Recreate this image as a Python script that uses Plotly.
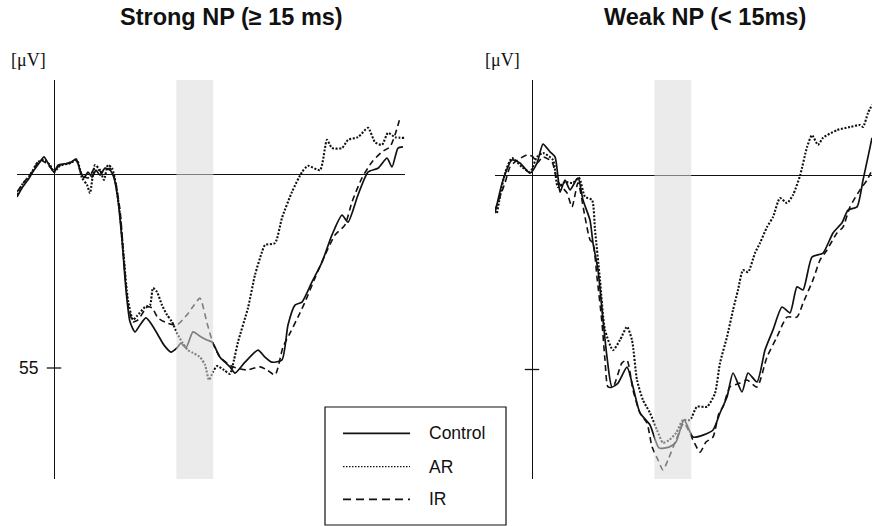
import plotly.graph_objects as go

# ---------------- data (time in ms, amplitude in microvolts, negative up) ----------------
# Strong NP (>= 15 ms)
S_CTRL_T = [-92.5, -80, -65, -50, -35, -25, -15, 0, 10, 25, 40, 55, 65, 75, 85, 95, 105, 115, 127.5, 140, 150,
            160, 170, 180, 190, 202.5, 215, 230, 245, 260, 275, 292.5, 307.5, 317.5, 330, 347.5, 365, 382.5, 395,
            415, 427.5, 440, 452.5, 477.5, 510, 527.5, 545, 570, 585, 602.5, 620, 645, 670, 695, 720, 735, 760,
            785, 810, 832.5, 845, 860, 872.5]
S_CTRL_V = [0.59, 0.36, 0.15, -0.10, -0.31, -0.44, -0.28, -0.05, -0.23, -0.26, -0.28, -0.39, -0.10, 0.10, -0.05,
            0.08, -0.10, 0.03, -0.15, -0.10, 0.10, 0.67, 1.70, 2.99, 3.81, 4.07, 3.89, 3.71, 3.89, 4.15, 4.41, 4.59,
            4.48, 4.36, 4.48, 4.07, 4.18, 4.28, 4.33, 4.72, 4.85, 4.97, 5.13, 4.85, 4.54, 4.72, 4.85, 4.79, 3.89,
            3.38, 3.30, 2.78, 2.27, 1.57, 1.06, 1.24, 0.54, -0.05, -0.15, -0.41, -0.18, -0.67, -0.70]

S_AR_T = [-92.5, -80, -60, -40, -25, -10, 0, 15, 40, 57.5, 70, 82.5, 90, 102.5, 115, 125, 135, 145, 155, 165,
          175, 185, 197.5, 207.5, 227.5, 240, 247.5, 257.5, 270, 282.5, 295, 307.5, 320, 335, 347.5, 365, 377.5,
          387.5, 397.5, 407.5, 425, 440, 450, 460, 485, 502.5, 520, 527.5, 552.5, 570, 595, 620, 635, 665, 682.5,
          695, 720, 735, 760, 785, 802.5, 820, 835, 852.5, 877.5]
S_AR_V = [0.54, 0.28, 0.03, -0.31, -0.36, -0.23, -0.05, -0.21, -0.28, -0.36, 0.10, 0.28, 0.49, -0.23, -0.10,
          0.15, -0.23, -0.15, 0.28, 1.06, 2.22, 3.25, 3.76, 3.66, 3.43, 3.38, 2.94, 3.04, 3.38, 3.63, 3.81, 4.10,
          4.33, 4.54, 4.61, 4.72, 4.92, 5.31, 5.10, 4.95, 5.05, 5.15, 4.79, 4.33, 3.45, 2.60, 2.01, 1.83, 1.78,
          1.13, 0.46, -0.05, -0.21, -0.10, -0.88, -0.67, -0.67, -0.88, -0.95, -1.19, -0.82, -0.75, -1.06, -0.95,
          -0.93]

S_IR_T = [-92.5, -75, -55, -35, -20, 0, 15, 35, 55, 70, 85, 102.5, 120, 140, 152.5, 165, 175, 185, 197.5, 210,
          232.5, 245, 260, 282.5, 307.5, 332.5, 350, 365, 382.5, 397.5, 415, 447.5, 482.5, 515, 532.5, 552.5,
          572.5, 590, 615, 627.5, 652.5, 677.5, 702.5, 727.5, 745, 770, 795, 820, 840, 852.5, 865]
S_IR_V = [0.46, 0.21, -0.05, -0.36, -0.28, -0.10, -0.23, -0.28, -0.36, 0.03, 0.10, -0.15, -0.05, -0.15, 0.15,
          0.93, 2.22, 3.38, 3.81, 3.76, 3.43, 3.45, 3.71, 3.84, 3.89, 3.63, 3.38, 3.20, 3.84, 4.36, 4.72, 4.97,
          5.05, 4.97, 5.05, 5.18, 4.46, 4.10, 3.58, 3.30, 2.68, 2.09, 1.57, 1.31, 0.72, 0.10, -0.31, -0.57, -0.70,
          -1.01, -1.44]

# Weak NP (< 15 ms)
W_CTRL_T = [-92.5, -72.5, -50, -30, -5, 12.5, 27.5, 45, 57.5, 65, 70, 82.5, 95, 115, 127.5, 145, 152.5, 165,
            177.5, 187.5, 200, 215, 237.5, 252.5, 270, 295, 317.5, 342.5, 360, 380, 402.5, 427.5, 452.5, 470,
            487.5, 502.5, 525, 540, 562.5, 582.5, 602.5, 625, 645, 662.5, 677.5, 700, 727.5, 752.5, 775, 790,
            812.5, 827.5, 840, 850]
W_CTRL_V = [0.97, 0.12, -0.40, -0.32, -0.06, -0.32, -0.81, -0.61, -0.48, 0.04, 0.43, 0.12, 0.37, 0.06, 0.63,
            1.15, 1.74, 2.44, 3.72, 4.68, 5.45, 5.35, 4.94, 5.45, 6.12, 6.43, 7.02, 7.00, 6.87, 6.30, 6.74, 6.69,
            6.56, 6.12, 5.71, 5.09, 5.58, 5.09, 5.32, 4.50, 3.98, 3.39, 3.54, 2.87, 2.95, 2.10, 2.00, 1.48, 1.22,
            0.89, 0.81, 0.12, -0.48, -0.97]

W_AR_T = [-87.5, -67.5, -50, -25, -5, 12.5, 27.5, 52.5, 65, 82.5, 102.5, 117.5, 132.5, 150, 157.5, 170, 182.5,
          202.5, 220, 237.5, 250, 262.5, 277.5, 295, 312.5, 327.5, 342.5, 360, 377.5, 395, 412.5, 437.5, 457.5,
          470, 487.5, 502.5, 515, 527.5, 540, 557.5, 570, 587.5, 602.5, 620, 637.5, 652.5, 670, 687.5, 700, 715,
          727.5, 762.5, 795, 820, 827.5, 840, 850]
W_AR_V = [0.97, -0.06, -0.45, -0.22, -0.09, -0.48, -0.58, -0.40, 0.30, 0.17, 0.19, 0.06, 0.55, 0.63, 1.40, 2.69,
          3.98, 4.50, 4.24, 3.90, 4.24, 5.27, 5.79, 6.12, 6.56, 6.89, 6.82, 6.64, 6.30, 6.30, 5.96, 5.96, 5.61,
          4.83, 4.16, 3.47, 2.95, 2.44, 2.49, 2.00, 1.74, 1.33, 1.07, 0.58, 0.71, 0.50, 0.01, -0.73, -1.04, -0.79,
          -0.97, -1.17, -1.25, -1.30, -1.25, -1.61, -1.82]

W_IR_T = [-92.5, -67.5, -55, -42.5, -12.5, 2.5, 12.5, 27.5, 50, 62.5, 75, 87.5, 100, 115, 132.5, 145, 152.5,
          162.5, 175, 182.5, 190, 202.5, 225, 237.5, 252.5, 270, 287.5, 300, 315, 327.5, 340, 360, 380, 402.5,
          420, 435, 452.5, 467.5, 477.5, 495, 520, 537.5, 562.5, 587.5, 612.5, 637.5, 662.5, 677.5, 702.5, 720,
          737.5, 762.5, 777.5, 795, 820, 837.5, 850]
W_IR_V = [0.89, 0.19, -0.22, -0.35, -0.53, -0.48, -0.32, -0.48, -0.35, 0.12, 0.30, 0.45, 0.81, 0.19, 1.07, 1.66,
          1.74, 2.62, 3.80, 4.76, 5.45, 5.45, 4.83, 4.76, 5.53, 6.12, 6.38, 6.99, 7.33, 7.59, 7.33, 6.82, 6.38,
          6.82, 7.13, 6.87, 6.74, 6.12, 5.96, 5.45, 5.35, 5.27, 5.45, 4.68, 4.16, 3.65, 3.65, 3.29, 2.69, 2.18,
          1.92, 1.48, 1.33, 0.81, 0.37, 0.12, -0.14]

TITLES = ["Strong NP (\u2265 15 ms)", "Weak NP (< 15ms)"]
SERIES = ["Control", "AR", "IR"]
BAND = [306, 398]          # shaded analysis window (ms)
TICK_VALUE = 5
TICK_LABEL = "55"
UNIT = "[\u03bcV]"

# ---------------- figure ----------------
W, H = 872, 526
def px(x):
    return x / W
def py(y):
    return 1 - y / H

STYLES = {
    "Control": dict(color="#111111", width=1.7, dash="solid"),
    "AR": dict(color="#111111", width=2.1, dash="2px,1.6px"),
    "IR": dict(color="#111111", width=1.6, dash="6px,4px"),
}

fig = go.Figure()
panels = [
    ("x", "y", [(S_CTRL_T, S_CTRL_V), (S_AR_T, S_AR_V), (S_IR_T, S_IR_V)]),
    ("x2", "y2", [(W_CTRL_T, W_CTRL_V), (W_AR_T, W_AR_V), (W_IR_T, W_IR_V)]),
]
for xa, ya, curves in panels:
    for name, (t, v) in zip(SERIES, curves):
        fig.add_trace(go.Scatter(x=t, y=v, mode="lines", name=name, xaxis=xa, yaxis=ya,
                                 line=dict(shape="spline", smoothing=0.6, **STYLES[name]),
                                 showlegend=False, hoverinfo="skip"))

ydom = [py(479), py(80)]
axis_common = dict(showgrid=False, showticklabels=False, ticks="", showline=False,
                   zeroline=True, zerolinecolor="#111111", zerolinewidth=1.3, fixedrange=True)
fig.update_layout(
    width=W, height=H, margin=dict(l=0, r=0, t=0, b=0),
    paper_bgcolor="white", plot_bgcolor="rgba(0,0,0,0)",
    xaxis=dict(domain=[px(17), px(405)], range=[-92.5, 877.5], anchor="y", **axis_common),
    yaxis=dict(domain=ydom, range=[7.861, -2.423], anchor="x", **axis_common),
    xaxis2=dict(domain=[px(495), 1.0], range=[-92.5, 850], anchor="y2", **axis_common),
    yaxis2=dict(domain=ydom, range=[7.822, -2.461], anchor="x2", **axis_common),
)

shapes = []
annotations = []
for xr, yr in [("x", "y"), ("x2", "y2")]:
    # shaded window (drawn above, semi-transparent)
    shapes.append(dict(type="rect", xref=xr, yref=yr + " domain", x0=BAND[0], x1=BAND[1], y0=0, y1=1,
                       fillcolor="rgba(218,218,218,0.55)", line=dict(width=0), layer="above"))
    # tick mark crossing the vertical axis
    shapes.append(dict(type="line", xref=xr, yref=yr, x0=-18, x1=18, y0=TICK_VALUE, y1=TICK_VALUE,
                       line=dict(color="#111111", width=1.3)))

titles_x = [231.5, 704.5]
for title, tx in zip(TITLES, titles_x):
    annotations.append(dict(xref="paper", yref="paper", x=px(tx), y=py(17), text="<b>" + title + "</b>",
                            showarrow=False, xanchor="center", yanchor="middle",
                            font=dict(family="Liberation Sans, Arial", size=23.5, color="#111111")))
for ux in [28.5, 502]:
    annotations.append(dict(xref="paper", yref="paper", x=px(ux), y=py(60), text=UNIT,
                            showarrow=False, xanchor="center", yanchor="middle",
                            font=dict(family="Liberation Serif, Times New Roman", size=18, color="#111111")))
annotations.append(dict(xref="x", yref="y", x=-35, y=TICK_VALUE, text=TICK_LABEL, showarrow=False,
                        xanchor="right", yanchor="middle",
                        font=dict(family="Liberation Sans, Arial", size=17.5, color="#111111")))

# manual legend
shapes.append(dict(type="rect", xref="paper", yref="paper", x0=px(325), x1=px(506), y0=py(525), y1=py(407),
                   line=dict(color="#111111", width=1.2), fillcolor="white", layer="above"))
legend_rows = [("Control", 433.3, "solid", 1.8), ("AR", 466.7, "1.5px,1.5px", 1.3), ("IR", 499.3, "8px,5px", 1.8)]
for name, ly, dash, lw in legend_rows:
    shapes.append(dict(type="line", xref="paper", yref="paper", x0=px(343), x1=px(410), y0=py(ly), y1=py(ly),
                       line=dict(color="#111111", width=lw, dash=dash), layer="above"))
    annotations.append(dict(xref="paper", yref="paper", x=px(427), y=py(ly), text=name, showarrow=False,
                            xanchor="left", yanchor="middle",
                            font=dict(family="Liberation Sans, Arial", size=17.5, color="#111111")))

fig.update_layout(shapes=shapes, annotations=annotations)
fig.write_html("out.html")
